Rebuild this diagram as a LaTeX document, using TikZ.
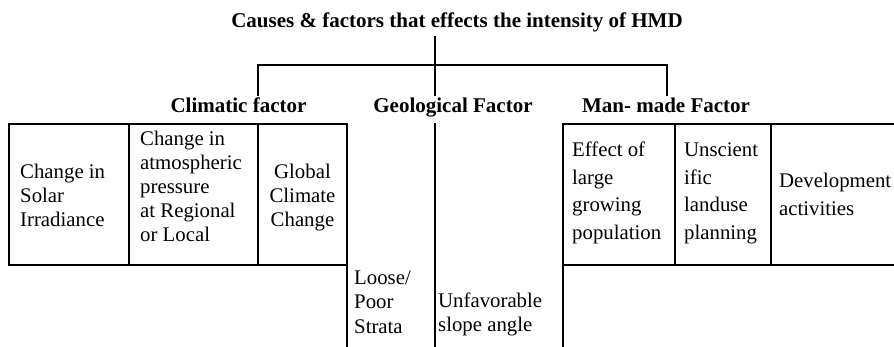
\documentclass[tikz,border=0pt]{standalone}
\usepackage{fontspec}
\setmainfont{Liberation Serif}
\newcommand{\cellL}[1]{\begin{tabular}[t]{@{}l@{}}#1\end{tabular}}
\newcommand{\cellC}[1]{\begin{tabular}[t]{@{}c@{}}#1\end{tabular}}
\begin{document}
\begin{tikzpicture}[x=1pt,y=-1pt,
  ln/.style={line width=1.1pt, line cap=rect},
  hd/.style={font=\fontsize{21}{24}\selectfont\bfseries, inner sep=0pt, anchor=base},
  tx/.style={font=\fontsize{20.8}{24}\selectfont, inner sep=0pt, anchor=base west},
  txc/.style={font=\fontsize{20.8}{24}\selectfont, inner sep=0pt, anchor=base},
  txw/.style={font=\fontsize{20.8}{27.5}\selectfont, inner sep=0pt, anchor=base west}]
\useasboundingbox (0,0) rectangle (894,347);
% headings
\node[hd] (title) at (457,28) {Causes \& factors that effects the intensity of HMD};
\node[hd] (clim) at (238.5,113) {Climatic factor};
\node[hd] (geo) at (453,113) {Geological Factor};
\node[hd] (man) at (666,113) {Man- made Factor};
% tree connectors
\coordinate (t0) at (435,37);
\coordinate (g0) at (435,95);
\coordinate (c1) at (258,65);
\coordinate (c0) at (258,95);
\coordinate (m1) at (667,65);
\coordinate (m0) at (667,95);
\draw[ln] (t0) -- (g0);
\draw[ln] (c0) -- (c1) -- (m1) -- (m0);
% table grid
\coordinate (a1) at (9,124);
\coordinate (a2) at (347,265);
\draw[ln] (a1) rectangle (a2);
\draw[ln] (129,124) -- (129,265);
\draw[ln] (258,124) -- (258,265);
\draw[ln] (347,265) -- (347,350);
\draw[ln] (435,124) -- (435,350);
\draw[ln] (563,124) -- (563,350);
\draw[ln] (563,124) -- (900,124);
\draw[ln] (563,265) -- (900,265);
\draw[ln] (675,124) -- (675,265);
\draw[ln] (771,124) -- (771,265);
% cell texts
\node[tx] (solar) at (20,179) {\cellL{Change in\\Solar\\Irradiance}};
\node[tx] (atmo) at (140,146) {\cellL{Change in\\atmospheric\\pressure\\at Regional\\or Local}};
\node[txc] (glob) at (302.5,179) {\cellC{Global\\Climate\\Change}};
\node[tx] (loose) at (354,285) {\cellL{Loose/\\Poor\\Strata}};
\node[tx] (slope) at (438,308) {\cellL{Unfavorable\\slope angle}};
\node[txw] (popu) at (572,157) {\cellL{Effect of\\large\\growing\\population}};
\node[txw] (land) at (684,157) {\cellL{Unscient\\ific\\landuse\\planning}};
\node[txw] (devt) at (779,188) {\cellL{Development\\activities}};
\end{tikzpicture}
\end{document}
